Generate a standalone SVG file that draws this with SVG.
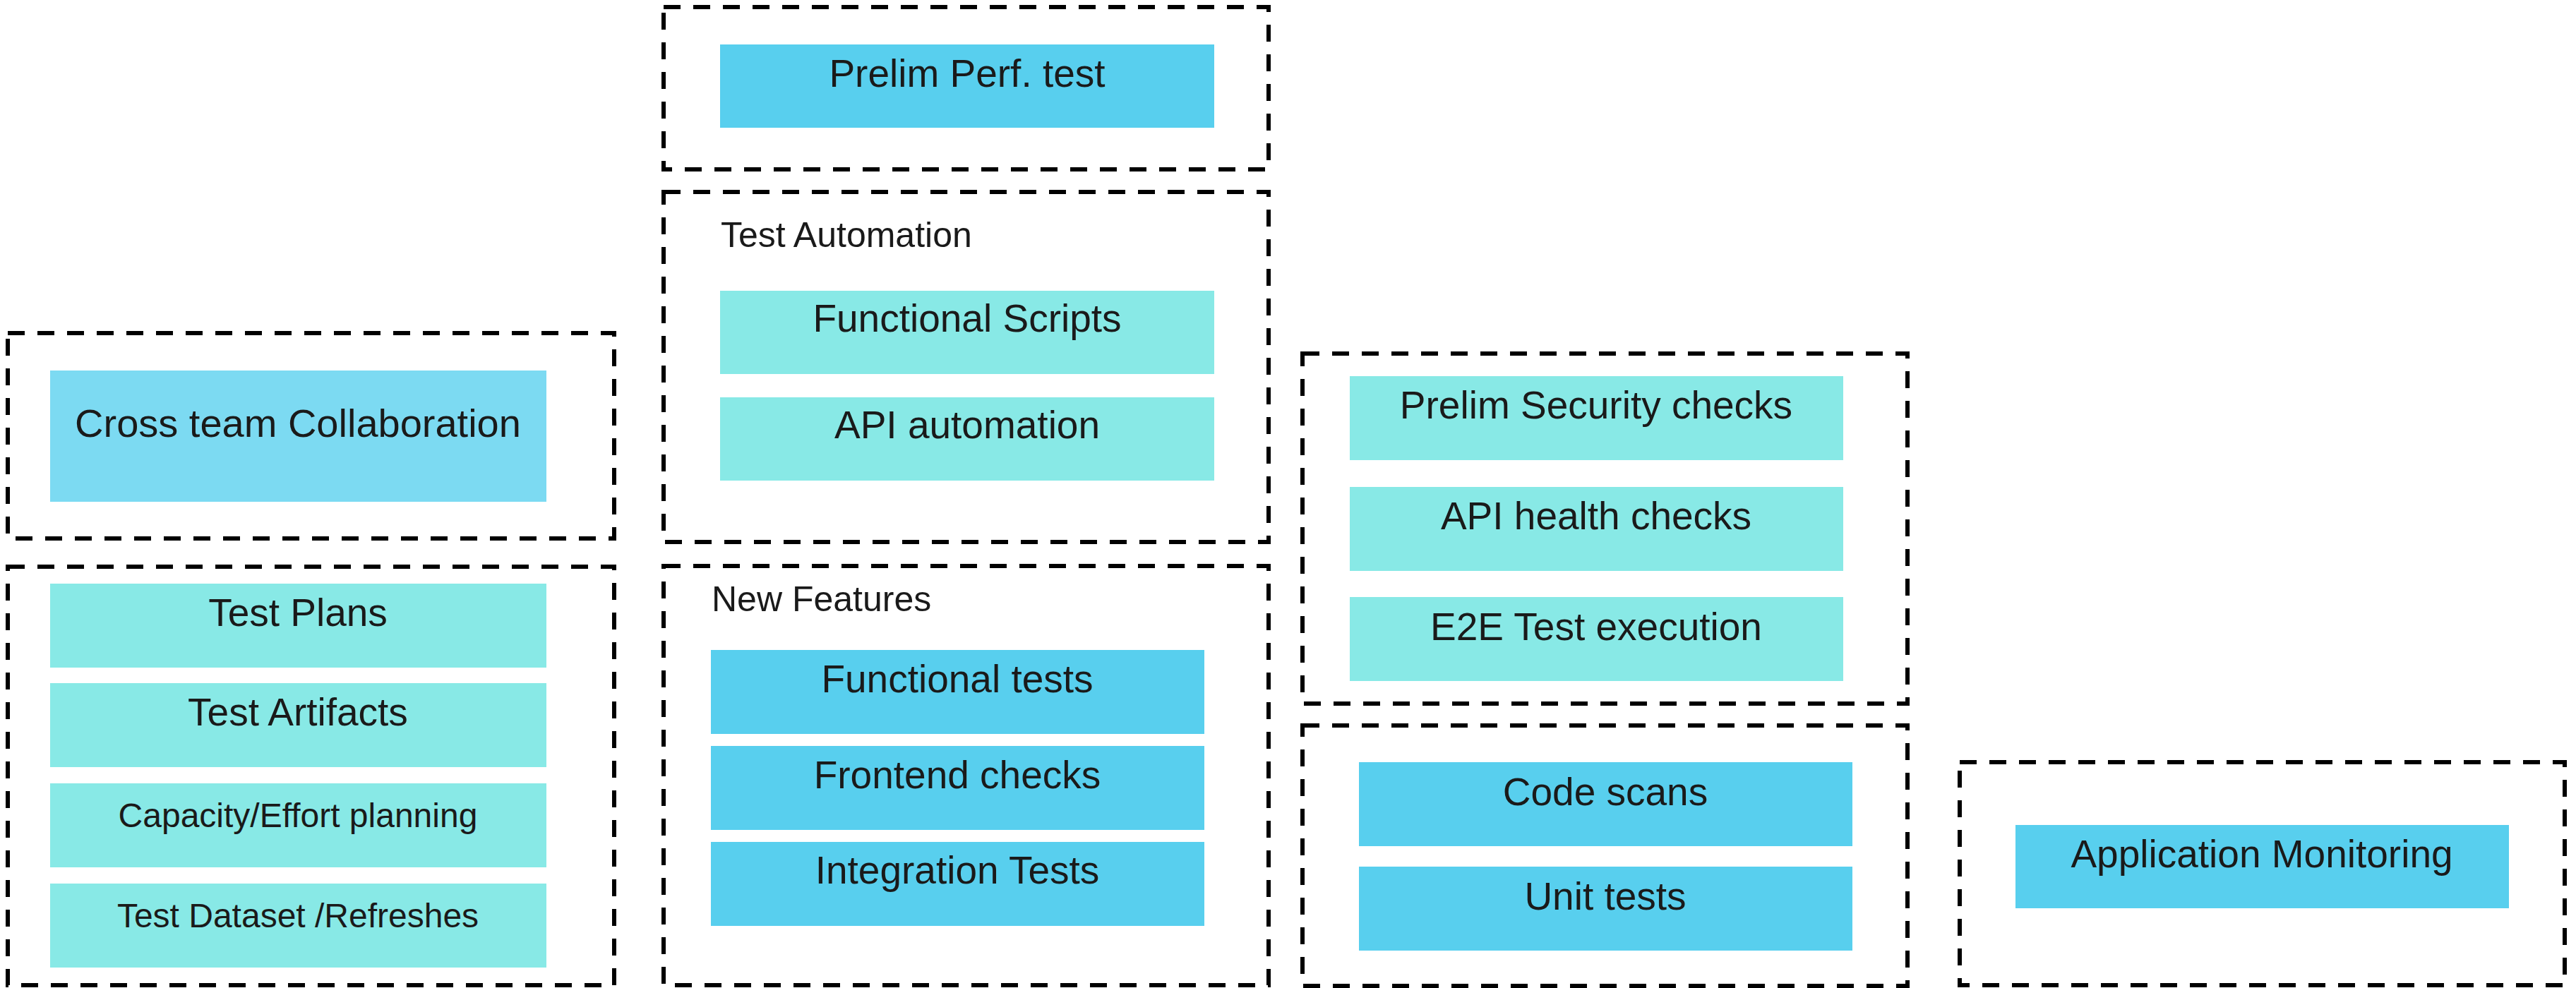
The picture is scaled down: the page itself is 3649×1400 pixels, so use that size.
<svg xmlns="http://www.w3.org/2000/svg" width="3649" height="1400" viewBox="0 0 3649 1400">
<style>
  .grp { fill: none; stroke: #000; stroke-width: 6; stroke-dasharray: 24 18; }
  .lb { fill: #7cdaf2; }
  .bl { fill: #58cfee; }
  .cy { fill: #88e9e6; }
  text { font-family: "Liberation Sans", Arial, sans-serif; fill: #1a1a1a; }
  .t { font-size: 55px; text-anchor: middle; }
  .s { font-size: 48px; text-anchor: middle; }
  .h { font-size: 50px; }
</style>
<rect width="3649" height="1400" fill="#fff"/>

<g id="group-collab">
  <rect class="grp" x="11" y="472" width="859" height="291"/>
  <g id="node-cross-team">
    <rect class="lb" x="71" y="525" width="703" height="186"/>
    <text class="t" x="422" y="619" style="font-size:56px">Cross team Collaboration</text>
  </g>
</g>

<g id="group-planning">
  <rect class="grp" x="11" y="803" width="859" height="593"/>
  <g id="node-test-plans">
    <rect class="cy" x="71" y="827" width="703" height="119"/>
    <text class="t" x="422" y="887">Test Plans</text>
  </g>
  <g id="node-test-artifacts">
    <rect class="cy" x="71" y="968" width="703" height="119"/>
    <text class="t" x="422" y="1028">Test Artifacts</text>
  </g>
  <g id="node-capacity">
    <rect class="cy" x="71" y="1110" width="703" height="119"/>
    <text class="s" x="422" y="1172">Capacity/Effort planning</text>
  </g>
  <g id="node-dataset">
    <rect class="cy" x="71" y="1252" width="703" height="119"/>
    <text class="s" x="422" y="1314">Test Dataset /Refreshes</text>
  </g>
</g>

<g id="group-perf">
  <rect class="grp" x="940" y="10" width="857" height="230"/>
  <g id="node-prelim-perf">
    <rect class="bl" x="1020" y="63" width="700" height="118"/>
    <text class="t" x="1370" y="123">Prelim Perf. test</text>
  </g>
</g>

<g id="group-test-automation">
  <rect class="grp" x="940" y="272" width="857" height="496"/>
  <text class="h" x="1021" y="350">Test Automation</text>
  <g id="node-functional-scripts">
    <rect class="cy" x="1020" y="412" width="700" height="118"/>
    <text class="t" x="1370" y="470">Functional Scripts</text>
  </g>
  <g id="node-api-automation">
    <rect class="cy" x="1020" y="563" width="700" height="118"/>
    <text class="t" x="1370" y="621">API automation</text>
  </g>
</g>

<g id="group-new-features">
  <rect class="grp" x="940" y="802" width="857" height="594"/>
  <text class="h" x="1008" y="866">New Features</text>
  <g id="node-functional-tests">
    <rect class="bl" x="1007" y="921" width="699" height="119"/>
    <text class="t" x="1356" y="981">Functional tests</text>
  </g>
  <g id="node-frontend-checks">
    <rect class="bl" x="1007" y="1057" width="699" height="119"/>
    <text class="t" x="1356" y="1117">Frontend checks</text>
  </g>
  <g id="node-integration-tests">
    <rect class="bl" x="1007" y="1193" width="699" height="119"/>
    <text class="t" x="1356" y="1252">Integration Tests</text>
  </g>
</g>

<g id="group-security">
  <rect class="grp" x="1845" y="501" width="857" height="496"/>
  <g id="node-prelim-security">
    <rect class="cy" x="1912" y="533" width="699" height="119"/>
    <text class="t" x="2261" y="593">Prelim Security checks</text>
  </g>
  <g id="node-api-health">
    <rect class="cy" x="1912" y="690" width="699" height="119"/>
    <text class="t" x="2261" y="750">API health checks</text>
  </g>
  <g id="node-e2e">
    <rect class="cy" x="1912" y="846" width="699" height="119"/>
    <text class="t" x="2261" y="907">E2E Test execution</text>
  </g>
</g>

<g id="group-code">
  <rect class="grp" x="1845" y="1028" width="857" height="369"/>
  <g id="node-code-scans">
    <rect class="bl" x="1925" y="1080" width="699" height="119"/>
    <text class="t" x="2274" y="1141">Code scans</text>
  </g>
  <g id="node-unit-tests">
    <rect class="bl" x="1925" y="1228" width="699" height="119"/>
    <text class="t" x="2274" y="1289">Unit tests</text>
  </g>
</g>

<g id="group-monitoring">
  <rect class="grp" x="2776" y="1080" width="857" height="316"/>
  <g id="node-app-monitoring">
    <rect class="bl" x="2855" y="1169" width="699" height="118"/>
    <text class="t" x="3204" y="1229">Application Monitoring</text>
  </g>
</g>

<g id="connectors"></g>
</svg>
